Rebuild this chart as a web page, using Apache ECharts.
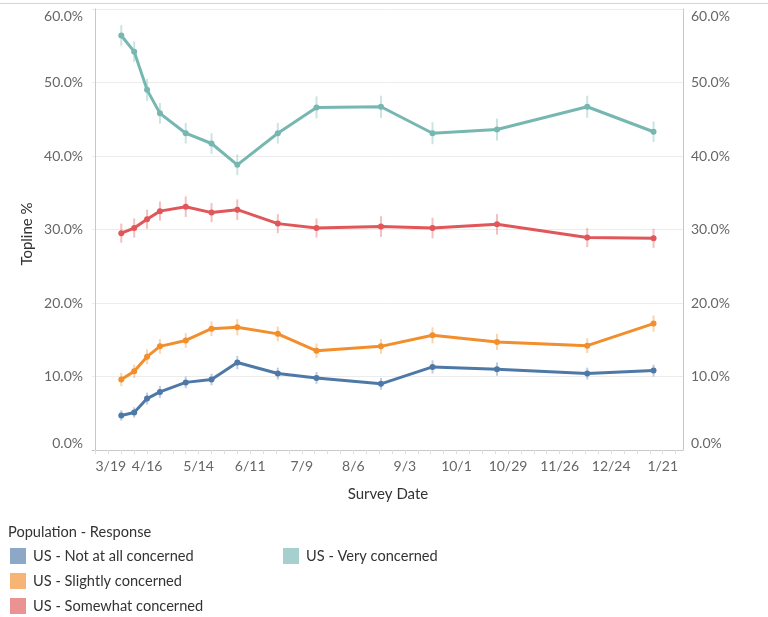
<!DOCTYPE html>
<html>
<head>
<meta charset="utf-8">
<script src="https://cdn.jsdelivr.net/npm/echarts@6/dist/echarts.min.js"></script>
<style>
html,body{margin:0;padding:0;background:#fff;}
#chart{width:768px;height:617px;}
</style>
</head>
<body>
<div id="chart"></div>
<script>
// ---- data ----
const surveyDates = ['2020-04-02','2020-04-09','2020-04-16','2020-04-23','2020-05-07','2020-05-21','2020-06-04','2020-06-26','2020-07-17','2020-08-21','2020-09-18','2020-10-23','2020-12-11','2021-01-16'];
const seriesNames = ['US - Not at all concerned','US - Slightly concerned','US - Somewhat concerned','US - Very concerned'];
const notAtAll   = [4.7, 5.1, 7.0, 7.9, 9.2, 9.6, 11.9, 10.4, 9.8, 9.0, 11.3, 11.0, 10.4, 10.8];
const slightly   = [9.6, 10.7, 12.7, 14.1, 14.9, 16.5, 16.7, 15.8, 13.5, 14.1, 15.6, 14.7, 14.2, 17.2];
const somewhat   = [29.5, 30.2, 31.4, 32.5, 33.1, 32.3, 32.7, 30.8, 30.2, 30.4, 30.2, 30.7, 28.9, 28.8];
const very       = [56.4, 54.2, 49.0, 45.8, 43.1, 41.7, 38.8, 43.1, 46.6, 46.7, 43.1, 43.6, 46.7, 43.3];
const notAtAllErr = [0.7, 0.7, 0.8, 0.8, 0.8, 0.8, 0.9, 0.8, 0.8, 0.8, 0.9, 0.9, 0.8, 0.8];
const slightlyErr = [0.9, 0.9, 1.0, 1.0, 1.0, 1.0, 1.1, 1.0, 1.0, 1.0, 1.1, 1.1, 1.0, 1.1];
const somewhatErr = [1.3, 1.3, 1.3, 1.3, 1.4, 1.3, 1.4, 1.3, 1.3, 1.4, 1.4, 1.4, 1.3, 1.3];
const veryErr     = [1.4, 1.4, 1.5, 1.4, 1.4, 1.4, 1.4, 1.4, 1.5, 1.5, 1.5, 1.5, 1.5, 1.4];
const tickDates  = ['2020-03-19','2020-04-16','2020-05-14','2020-06-11','2020-07-09','2020-08-06','2020-09-03','2020-10-01','2020-10-29','2020-11-26','2020-12-24','2021-01-21'];
const tickLabels = ['3/19','4/16','5/14','6/11','7/9','8/6','9/3','10/1','10/29','11/26','12/24','1/21'];
const yTicks = [0, 10, 20, 30, 40, 50, 60];

// ---- helpers ----
const ORIGIN = Date.UTC(2020, 2, 19);
function dayOf(s){ const p = s.split('-').map(Number); return (Date.UTC(p[0], p[1]-1, p[2]) - ORIGIN) / 86400000; }
const colors = ['#4e79a7', '#f28e2b', '#e15759', '#76b7b2'];
const values = [notAtAll, slightly, somewhat, very];
const errs = [notAtAllErr, slightlyErr, somewhatErr, veryErr];
const tickDays = tickDates.map(dayOf);
const minorTicks = [];
for (let d = 0; d <= 315; d += 7) minorTicks.push(d);
const FONT = 'Lato, "Open Sans", sans-serif';
const FS = 14;

const series = [];
values.forEach((vals, si) => {
  series.push({
    name: 'err' + si,
    type: 'custom',
    z: 1,
    silent: true,
    data: surveyDates.map((d, i) => [dayOf(d), vals[i] - errs[si][i], vals[i] + errs[si][i]]),
    encode: { x: 0, y: [1, 2] },
    renderItem: function (params, api) {
      const x = api.value(0);
      const a = api.coord([x, api.value(1)]);
      const b = api.coord([x, api.value(2)]);
      return { type: 'line', shape: { x1: a[0], y1: a[1], x2: b[0], y2: b[1] },
               style: { stroke: colors[si], lineWidth: 2, opacity: 0.38 } };
    }
  });
});
values.forEach((vals, si) => {
  series.push({
    name: seriesNames[si],
    type: 'line',
    z: 3,
    data: surveyDates.map((d, i) => [dayOf(d), vals[i]]),
    symbol: 'circle',
    symbolSize: 6,
    color: colors[si],
    lineStyle: { width: 3, color: colors[si] },
    itemStyle: { color: colors[si] },
    emphasis: { disabled: true }
  });
});

const chart = echarts.init(document.getElementById('chart'), null, { renderer: 'canvas' });
const yAxisCommon = {
  type: 'value', min: yTicks[0], max: yTicks[yTicks.length - 1], interval: 10,
  axisLine: { show: true, lineStyle: { color: '#c8c8c8', width: 1 } },
  axisTick: { show: false },
  axisLabel: {
    color: '#666', fontFamily: FONT, fontSize: FS,
    formatter: v => v.toFixed(1) + '%',
    verticalAlignMaxLabel: 'top', verticalAlignMinLabel: 'bottom'
  }
};
const legendCommon = {
  orient: 'vertical', top: 548, itemWidth: 16, itemHeight: 16, itemGap: 9, padding: 0,
  icon: 'rect', selectedMode: false,
  itemStyle: { opacity: 0.65 },
  textStyle: { color: '#333', fontFamily: FONT, fontSize: 14.6, padding: [0, 0, 0, 2] }
};
chart.setOption({
  animation: false,
  textStyle: { fontFamily: FONT },
  grid: { left: 92, right: 85, top: 9, bottom: 167, containLabel: false },
  xAxis: {
    type: 'value', min: -1.9, max: 319,
    axisLine: { show: true, lineStyle: { color: '#c8c8c8' } },
    axisTick: { show: true, customValues: minorTicks, length: 4, lineStyle: { color: '#dedede' } },
    axisLabel: {
      customValues: tickDays, margin: 9, color: '#666', fontFamily: FONT, fontSize: FS,
      alignMinLabel: 'left',
      formatter: v => { const k = tickDays.indexOf(Math.round(v)); return k >= 0 ? tickLabels[k] : ''; }
    },
    splitLine: { show: false }
  },
  yAxis: [
    Object.assign({}, yAxisCommon, {
      position: 'left',
      splitLine: { show: true, lineStyle: { color: '#ececec', width: 1 } },
      axisLabel: Object.assign({}, yAxisCommon.axisLabel, { margin: 9 })
    }),
    Object.assign({}, yAxisCommon, {
      position: 'right',
      splitLine: { show: false },
      axisLabel: Object.assign({}, yAxisCommon.axisLabel, { margin: 8 })
    })
  ],
  legend: [
    Object.assign({}, legendCommon, { left: 10, height: 70, data: seriesNames.slice(0, 3) }),
    Object.assign({}, legendCommon, { left: 283, height: 70, data: seriesNames.slice(3) })
  ],
  graphic: [
    { type: 'line', shape: { x1: 0, y1: 3.5, x2: 768, y2: 3.5 }, style: { stroke: '#d4d4d4', lineWidth: 1 } },
    { type: 'text', left: 8, top: 525, style: { text: 'Population - Response', fill: '#333', font: '14.6px ' + FONT } },
    { type: 'text', x: 27, y: 234, rotation: Math.PI / 2, style: { text: 'Topline %', fill: '#333', font: '15px ' + FONT, align: 'center', verticalAlign: 'middle' } },
    { type: 'text', x: 388, y: 494, style: { text: 'Survey Date', fill: '#333', font: '15px ' + FONT, align: 'center', verticalAlign: 'middle' } }
  ],
  series: series
});
</script>
</body>
</html>
